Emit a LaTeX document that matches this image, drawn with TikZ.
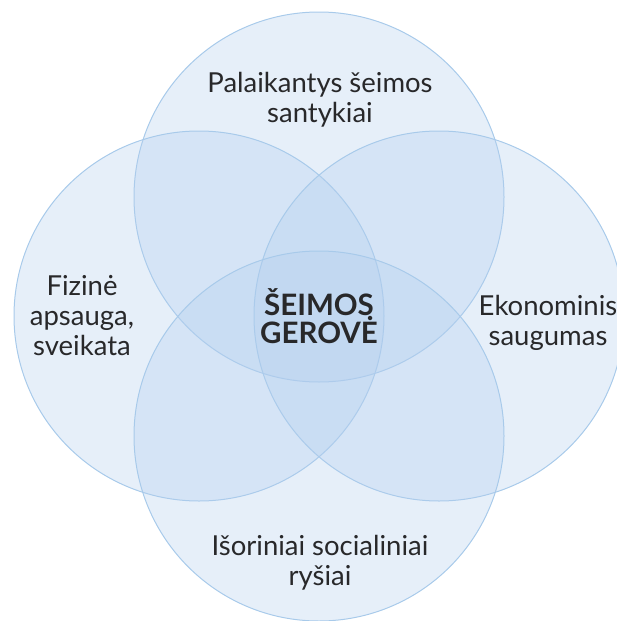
\documentclass[tikz,border=0pt]{standalone}
\usepackage{fontspec}
\setmainfont{Lato}
\usepackage{xcolor}
\usepackage{tikz}
\usetikzlibrary{positioning}

\definecolor{ringfill}{RGB}{178,206,238}
\definecolor{ringline}{RGB}{168,202,234}
\definecolor{inktext}{RGB}{40,40,42}

\begin{document}
\begin{tikzpicture}[
    x=1pt, y=-1pt,
    circ/.style={circle, draw=ringline, line width=1pt,
        fill=ringfill, fill opacity=0.33,
        minimum size=370pt, inner sep=0pt},
    lbl/.style={align=center, text=inktext,
        font=\fontsize{27.5}{30}\selectfont},
    core/.style={lbl, font=\bfseries\fontsize{29.5}{28.5}\selectfont}
]
\useasboundingbox (0,0) rectangle (617,621);

\node[circ] (top) at (319,197) {};
\node[circ] (left) at (199,316) {};
\node[circ] (right) at (439,316) {};
\node[circ] (bottom) at (319,436) {};

\node[lbl] (ties) at (320,100) {Palaikantys šeimos\\santykiai};
\node[lbl] (health) at (82,316) {Fizinė\\apsauga,\\sveikata};
\node[lbl] (money) at (548,323) {Ekonominis\\saugumas};
\node[lbl] (social) at (320,563) {Išoriniai socialiniai\\ryšiai};
\node[core] (well) at (319,316) {ŠEIMOS\\GEROVĖ};
\end{tikzpicture}
\end{document}
